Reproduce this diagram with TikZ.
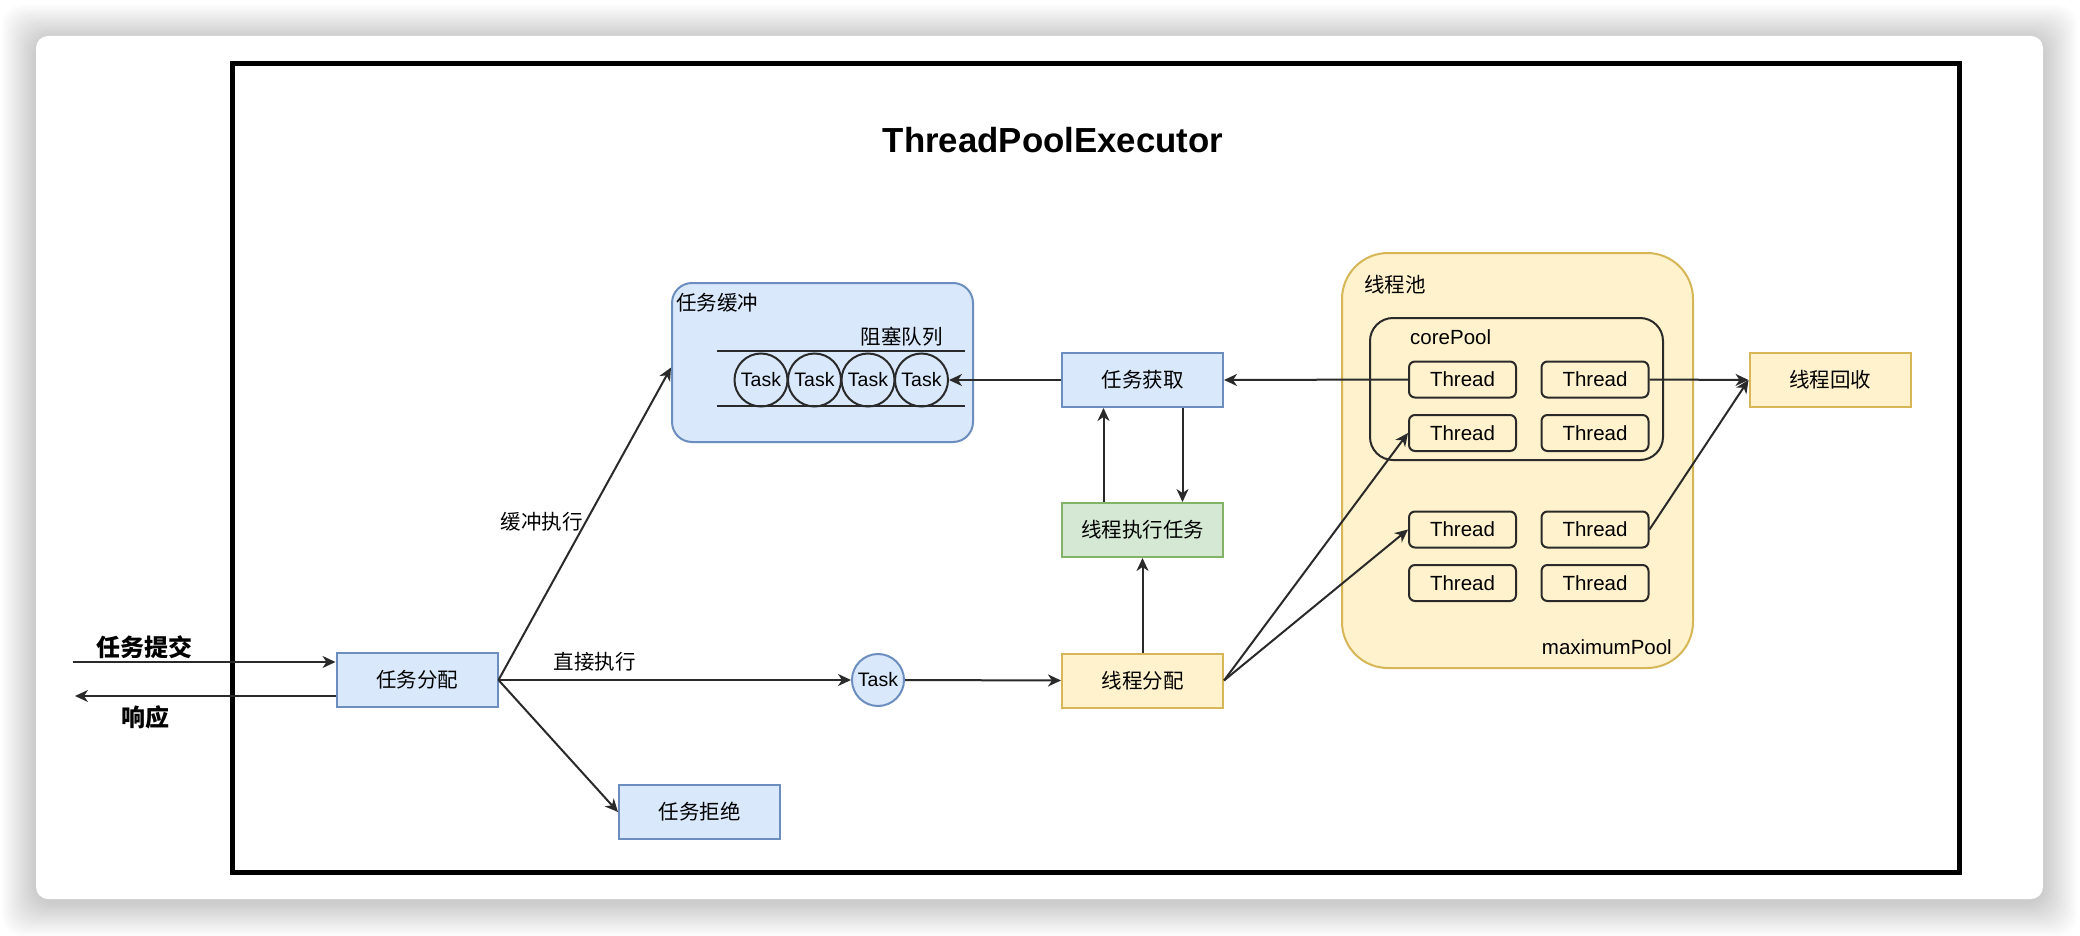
\documentclass[tikz,border=0pt]{standalone}
\usepackage{fontspec}
\setmainfont{Liberation Sans}
\newfontfamily\cjk{Noto Sans CJK SC}
\usetikzlibrary{arrows.meta}
\newcommand\myfs[1]{\fontsize{#1}{#1}\selectfont}
\definecolor{bfill}{HTML}{DAE8FC}
\definecolor{bline}{HTML}{6C8EBF}
\definecolor{yfill}{HTML}{FFF2CC}
\definecolor{yline}{HTML}{D6B656}
\definecolor{gfill}{HTML}{D5E8D4}
\definecolor{gline}{HTML}{82B366}
\definecolor{dk}{HTML}{2A2A2A}
\tikzset{
  box/.style={draw, line width=2pt, minimum width=161pt, minimum height=54pt, inner sep=0pt, font={\cjk\myfs{20.5pt}}},
  bluebox/.style={box, fill=bfill, draw=bline},
  yellowbox/.style={box, fill=yfill, draw=yline},
  greenbox/.style={box, fill=gfill, draw=gline},
  thr/.style={draw=dk, line width=2pt, rounded corners=6pt, minimum width=107pt, minimum height=36pt, inner sep=0pt, font={\myfs{20.5pt}}},
  taskcirc/.style={circle, draw=dk, line width=2pt, minimum size=53pt, inner sep=0pt, font={\myfs{19.5pt}}},
  conn/.style={draw=dk, line width=2pt, -{Stealth[length=13pt,width=12pt,inset=4pt]}},
  lbl/.style={inner sep=0pt, font={\cjk\myfs{20.5pt}}},
  llbl/.style={inner sep=0pt, font={\myfs{20.5pt}}},
}
\begin{document}
\begin{tikzpicture}[x=1pt, y=-1pt]
\useasboundingbox (0,0) rectangle (2080,936);
\fill[white] (0,0) rectangle (2080,936);
% shadow of the card
\foreach \i in {1,...,17}{
  \fill[black, opacity=0.011, rounded corners=20pt] (36-2*\i,36-2*\i+3) rectangle (2043+2*\i,899+2*\i+3);
}
\fill[white, rounded corners=12pt] (36,36) rectangle (2043,899);
% frame
\draw[line width=5pt] (232,64) rectangle (1959,872);
\node[inner sep=0pt, font={\bfseries\myfs{34.8pt}}] (title) at (1053,140) {ThreadPoolExecutor};

% task buffer
\node[draw=bline, fill=bfill, line width=2pt, rounded corners=20pt, minimum width=301pt, minimum height=159pt, inner sep=0pt] (buf) at (822.5,362.5) {};
\node[lbl, anchor=west] (buflbl) at (676,303) {任务缓冲};
\node[lbl, anchor=east] (qlbl) at (943,337) {阻塞队列};
\coordinate (q1a) at (717,351); \coordinate (q1b) at (965,351);
\coordinate (q2a) at (717,406); \coordinate (q2b) at (965,406);
\draw[dk, line width=2pt] (q1a) -- (q1b);
\draw[dk, line width=2pt] (q2a) -- (q2b);
\node[taskcirc] (c1) at (761,380) {Task};
\node[taskcirc] (c2) at (814.5,380) {Task};
\node[taskcirc] (c3) at (868,380) {Task};
\node[taskcirc] (c4) at (921.5,380) {Task};

% thread pool
\node[draw=yline, fill=yfill, line width=2pt, rounded corners=46pt, minimum width=351pt, minimum height=415pt, inner sep=0pt] (pool) at (1517.5,460.5) {};
\node[lbl, anchor=west] (poollbl) at (1364,285) {线程池};
\node[draw=dk, line width=2pt, rounded corners=23pt, minimum width=293pt, minimum height=142pt, inner sep=0pt] (core) at (1516.5,389) {};
\node[llbl, anchor=west] (corelbl) at (1410,337) {corePool};
\node[llbl, anchor=east] (maxlbl) at (1672,647) {maximumPool};
\node[thr] (t11) at (1462.5,379.5) {Thread};
\node[thr] (t12) at (1595,379.5) {Thread};
\node[thr] (t21) at (1462.5,433) {Thread};
\node[thr] (t22) at (1595,433) {Thread};
\node[thr] (t31) at (1462.5,529.5) {Thread};
\node[thr] (t32) at (1595,529.5) {Thread};
\node[thr] (t41) at (1462.5,583) {Thread};
\node[thr] (t42) at (1595,583) {Thread};

% boxes
\node[bluebox] (dist) at (417,680) {任务分配};
\node[bluebox] (rej) at (699.5,812) {任务拒绝};
\node[bluebox] (fetch) at (1142.5,380) {任务获取};
\node[greenbox] (texec) at (1142.5,530) {线程执行任务};
\node[yellowbox] (tdist) at (1142.5,680.5) {线程分配};
\node[yellowbox] (recycle) at (1830,380) {线程回收};
\node[circle, draw=bline, fill=bfill, line width=2pt, minimum size=52pt, inner sep=0pt, font={\myfs{19.5pt}}] (taskc) at (878,680) {Task};

% outside labels
\node[inner sep=0pt, font={\cjk\bfseries\myfs{24pt}}] (sublbl) at (144.5,647) {任务提交};
\node[inner sep=0pt, font={\cjk\bfseries\myfs{24pt}}] (resplbl) at (145.5,717) {响应};
\node[lbl] (directlbl) at (594.5,662) {直接执行};
\node[lbl] (bufexlbl) at (541.5,522) {缓冲执行};

% connectors
\coordinate (sub) at (73,662);
\coordinate (resp) at (75,696);
\draw[conn] (sub) -- (sub -| dist.west);
\draw[conn] (dist.west |- resp) -- (resp);
\draw[conn] (dist.east) -- ([yshift=-5pt]buf.west);
\draw[conn] (dist.east) -- (taskc.west);
\draw[conn] (dist.east) -- (rej.west);
\draw[conn] (taskc.east) -- (tdist.west);
\draw[conn] (tdist.north) -- (texec.south);
\draw[conn] ([xshift=-39pt]texec.north) -- ([xshift=-39pt]fetch.south);
\draw[conn] ([xshift=40pt]fetch.south) -- ([xshift=40pt]texec.north);
\draw[conn] (fetch.west) -- (c4.east);
\draw[conn] (t11.west) -- (fetch.east);
\draw[conn] (tdist.east) -- (t21.west);
\draw[conn] (tdist.east) -- (t31.west);
\draw[conn] (t12.east) -- (recycle.west);
\draw[conn] (t32.east) -- (recycle.west);
\end{tikzpicture}
\end{document}
